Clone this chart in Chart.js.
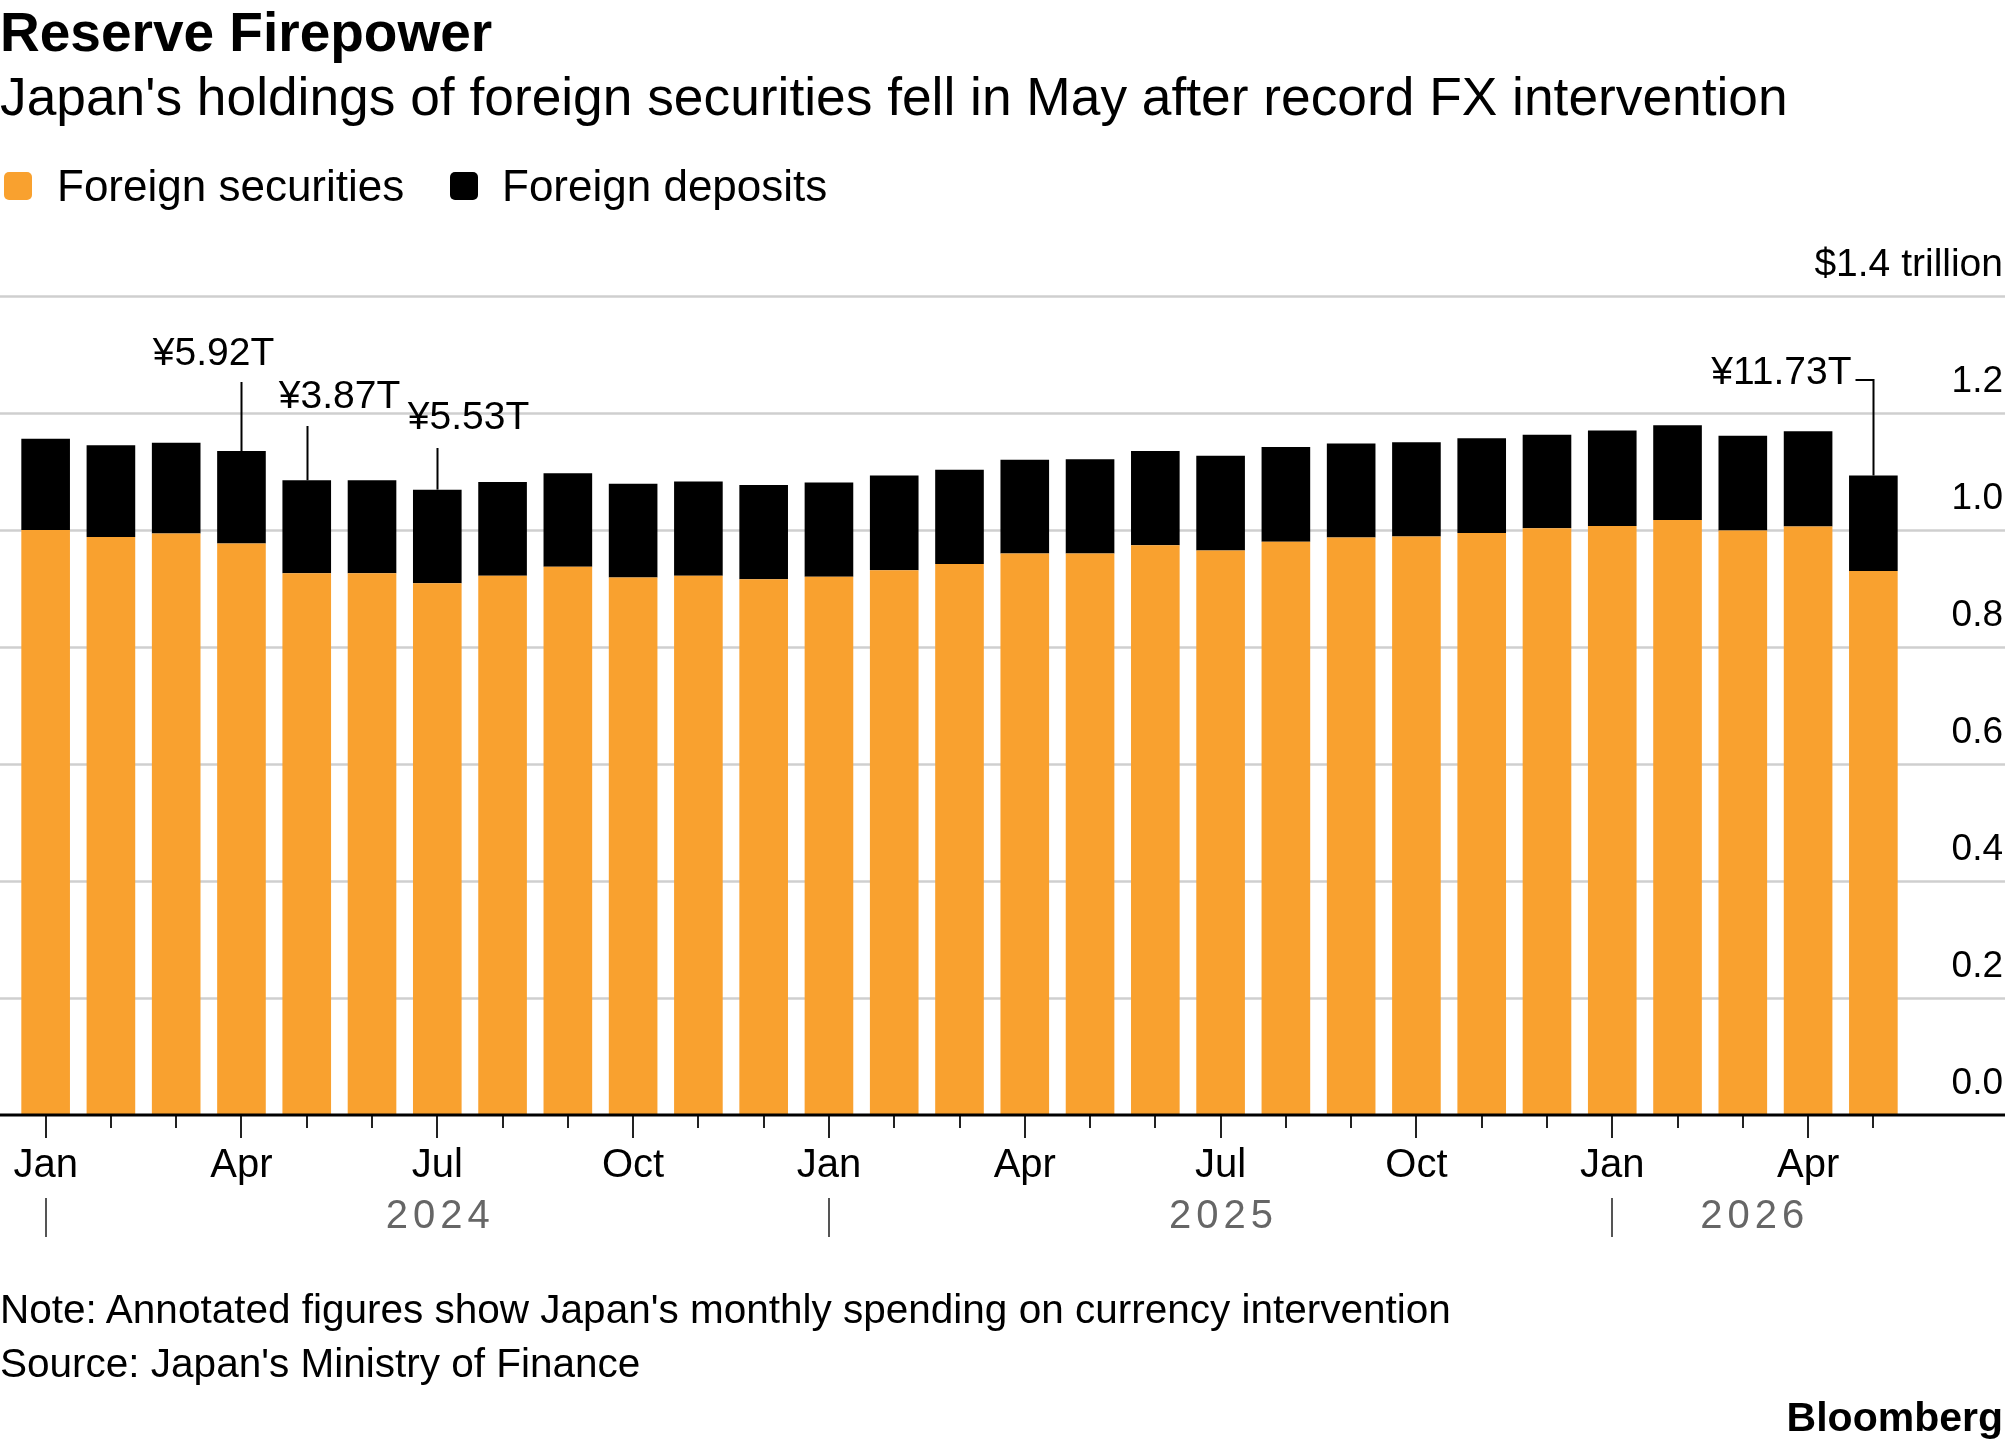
<!DOCTYPE html>
<html>
<head>
<meta charset="utf-8">
<script src="https://cdn.jsdelivr.net/npm/chart.js@4.4.1/dist/chart.umd.min.js"></script>
<style>
  body { margin: 0; background: #fff; font-family: "Liberation Sans", Arial, Helvetica, sans-serif; }
  #page { position: relative; width: 2005px; height: 1446px; overflow: hidden; background: #fff; }
  #chartBox { position: absolute; left: 0; top: 0; width: 2005px; height: 1446px; }
  .t { position: absolute; white-space: nowrap; line-height: 1; color: #000; }
  .sw { position: absolute; width: 28px; height: 28px; border-radius: 5px; }
</style>
</head>
<body>
<div id="page">
  <div id="chartBox"><canvas id="chart"></canvas></div>

  <div class="t" style="left:0; top:5px; font-size:55px; font-weight:bold;">Reserve Firepower</div>
  <div class="t" style="left:0; top:70px; font-size:53.3px;">Japan's holdings of foreign securities fell in May after record FX intervention</div>

  <div class="sw" style="left:4px; top:172px; background:#F9A12F;"></div>
  <div class="t" style="left:57px; top:164px; font-size:44px;">Foreign securities</div>
  <div class="sw" style="left:450px; top:172px; background:#000;"></div>
  <div class="t" style="left:502px; top:164px; font-size:44px;">Foreign deposits</div>

  <div class="t" style="left:0; top:1289px; font-size:40.5px;">Note: Annotated figures show Japan's monthly spending on currency intervention</div>
  <div class="t" style="left:0; top:1343px; font-size:40.5px;">Source: Japan's Ministry of Finance</div>
  <div class="t" style="right:2px; top:1397px; font-size:41px; font-weight:bold;">Bloomberg</div>
</div>

<script>
// months, Jan 2024 .. May 2026
const months = [
  "Jan 2024", "Feb 2024", "Mar 2024", "Apr 2024", "May 2024", "Jun 2024",
  "Jul 2024", "Aug 2024", "Sep 2024", "Oct 2024", "Nov 2024", "Dec 2024",
  "Jan 2025", "Feb 2025", "Mar 2025", "Apr 2025", "May 2025", "Jun 2025",
  "Jul 2025", "Aug 2025", "Sep 2025", "Oct 2025", "Nov 2025", "Dec 2025",
  "Jan 2026", "Feb 2026", "Mar 2026", "Apr 2026", "May 2026"
];

// $ trillion
const securities = [
  1.000, 0.988, 0.994, 0.977, 0.926, 0.926, 0.909, 0.922, 0.937, 0.919, 0.922, 0.916,
  0.920, 0.931, 0.942, 0.960, 0.960, 0.974, 0.965, 0.980, 0.987, 0.989, 0.995, 1.003,
  1.007, 1.017, 0.999, 1.006, 0.930
];
const deposits = [
  0.156, 0.157, 0.155, 0.158, 0.159, 0.159, 0.160, 0.160, 0.160, 0.160, 0.161, 0.161,
  0.161, 0.162, 0.161, 0.160, 0.161, 0.161, 0.162, 0.162, 0.161, 0.161, 0.162, 0.160,
  0.163, 0.162, 0.162, 0.163, 0.163
];

const yTicks = [0, 0.2, 0.4, 0.6, 0.8, 1.0, 1.2, 1.4];
const yTopLabel = "$1.4 trillion";

// intervention notes
const noteMonths = ["Apr 2024", "May 2024", "Jul 2024", "May 2026"];
const noteLabels = ["¥5.92T", "¥3.87T", "¥5.53T", "¥11.73T"];

const years = ["2024", "2025", "2026"];
const yearCenterMonths = ["Jul 2024", "Jul 2025", "Mar 2026"];
const yearStartMonths = ["Jan 2024", "Jan 2025", "Jan 2026"];

const FONT = '"Liberation Sans", Arial, Helvetica, sans-serif';
const ORANGE = "#F9A12F";

// gridlines across the full width, under the bars
const gridPlugin = {
    id: "fullGrid",
    beforeDatasetsDraw(chart) {
        const ctx = chart.ctx;
        const y = chart.scales.y;
        ctx.save();
        ctx.strokeStyle = "#cfcfcf";
        ctx.lineWidth = 2.5;
        yTicks.forEach(function(v) {
            if (v === 0) return;
            const py = Math.round(y.getPixelForValue(v)) + 0.5;
            ctx.beginPath();
            ctx.moveTo(0, py);
            ctx.lineTo(chart.width, py);
            ctx.stroke();
        });
        ctx.restore();
    }
};

// baseline, month ticks, years, annotations
const decorPlugin = {
    id: "decor",
    afterDatasetsDraw(chart) {
        const ctx = chart.ctx;
        const x = chart.scales.x;
        const y = chart.scales.y;
        const base = y.getPixelForValue(0);
        ctx.save();

        // top axis label (the axis clips its own labels to its width)
        ctx.fillStyle = "#000";
        ctx.font = "39px " + FONT;
        ctx.textAlign = "right";
        ctx.textBaseline = "middle";
        ctx.fillText(yTopLabel, y.right, y.getPixelForValue(yTicks[yTicks.length - 1]) - 31);

        // ticks under each month
        ctx.strokeStyle = "#222";
        ctx.lineWidth = 2;
        months.forEach(function(m, i) {
            const px = Math.round(x.getPixelForValue(i));
            const len = (i % 3 === 0) ? 23 : 13;
            ctx.beginPath();
            ctx.moveTo(px, base);
            ctx.lineTo(px, base + len);
            ctx.stroke();
        });

        // baseline
        ctx.strokeStyle = "#000";
        ctx.lineWidth = 3;
        ctx.beginPath();
        ctx.moveTo(0, base);
        ctx.lineTo(chart.width, base);
        ctx.stroke();

        // year separators and labels
        ctx.strokeStyle = "#555";
        ctx.lineWidth = 2;
        yearStartMonths.forEach(function(m) {
            const px = Math.round(x.getPixelForValue(months.indexOf(m)));
            ctx.beginPath();
            ctx.moveTo(px, 1198);
            ctx.lineTo(px, 1237);
            ctx.stroke();
        });
        ctx.fillStyle = "#666";
        ctx.font = "40px " + FONT;
        ctx.textAlign = "center";
        ctx.textBaseline = "middle";
        if ("letterSpacing" in ctx) ctx.letterSpacing = "5px";
        const yearShift = [0, 0, 9];
        years.forEach(function(yr, k) {
            const px = x.getPixelForValue(months.indexOf(yearCenterMonths[k]));
            ctx.fillText(yr, px + 3 + yearShift[k], 1217);
        });
        if ("letterSpacing" in ctx) ctx.letterSpacing = "0px";

        // annotation labels
        ctx.fillStyle = "#000";
        ctx.strokeStyle = "#000";
        ctx.lineWidth = 2;
        ctx.font = "39px " + FONT;
        const place = [
            { dx: -28, ty: 354, ly: 382 },
            { dx: 32, ty: 397, ly: 426 },
            { dx: 31, ty: 418, ly: 448 },
            { dx: -22, ty: 373, ly: 380, hook: true }
        ];
        noteMonths.forEach(function(m, k) {
            const i = months.indexOf(m);
            const px = Math.round(x.getPixelForValue(i)) + 0.5;
            const top = y.getPixelForValue(securities[i] + deposits[i]);
            const p = place[k];
            if (p.hook) {
                ctx.textAlign = "right";
                ctx.fillText(noteLabels[k], px + p.dx, p.ty);
                ctx.beginPath();
                ctx.moveTo(px + p.dx + 4, p.ly);
                ctx.lineTo(px, p.ly);
                ctx.lineTo(px, top);
                ctx.stroke();
            } else {
                ctx.textAlign = "center";
                ctx.fillText(noteLabels[k], px + p.dx, p.ty);
                ctx.beginPath();
                ctx.moveTo(px, p.ly);
                ctx.lineTo(px, top);
                ctx.stroke();
            }
        });
        ctx.restore();
    }
};

const ctx = document.getElementById("chart").getContext("2d");
const reserveChart = new Chart(ctx, {
    type: "bar",
    data: {
        labels: months,
        datasets: [{
            label: "Foreign securities",
            data: securities,
            backgroundColor: ORANGE,
            borderWidth: 0,
            barPercentage: 0.745,
            categoryPercentage: 1.0
        }, {
            label: "Foreign deposits",
            data: deposits,
            backgroundColor: "#000",
            borderWidth: 0,
            barPercentage: 0.745,
            categoryPercentage: 1.0
        }]
    },
    options: {
        responsive: true,
        maintainAspectRatio: false,
        animation: false,
        layout: { padding: { left: 13, right: 2, top: 296, bottom: 231 } },
        plugins: {
            legend: { display: false },
            tooltip: { enabled: false }
        },
        scales: {
            x: {
                stacked: true,
                border: { display: false },
                grid: { display: false, drawTicks: true, tickLength: 27 },
                ticks: {
                    autoSkip: false,
                    maxRotation: 0,
                    padding: 0,
                    color: "#000",
                    font: { size: 40, family: FONT },
                    callback: function(v, i) {
                        return i % 3 === 0 ? months[i].slice(0, 3) : "";
                    }
                },
                afterFit: function(s) { s.height = 100; }
            },
            y: {
                stacked: true,
                position: "right",
                min: 0,
                max: 1.4,
                border: { display: false },
                grid: { display: false, drawTicks: false },
                ticks: {
                    stepSize: 0.2,
                    labelOffset: -31,
                    crossAlign: "far",
                    color: "#000",
                    font: { size: 37, family: FONT },
                    callback: function(v) {
                        const r = Math.round(v * 10) / 10;
                        return r === 1.4 ? "" : r.toFixed(1);
                    }
                },
                afterFit: function(s) { s.width = 97; }
            }
        }
    },
    plugins: [gridPlugin, decorPlugin]
});
</script>
</body>
</html>
